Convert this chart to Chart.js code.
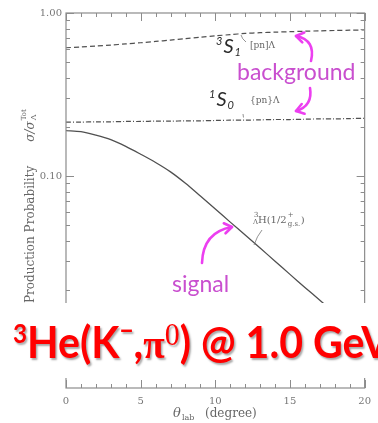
<!DOCTYPE html>
<html>
<head>
<meta charset="utf-8">
<script src="https://cdn.jsdelivr.net/npm/chart.js@4.4.1/dist/chart.umd.min.js"></script>
<style>
html,body{margin:0;padding:0;background:#fff;}
#wrap{width:378px;height:423px;}
</style>
</head>
<body>
<div id="wrap"><canvas id="c" width="378" height="423"></canvas></div>
<script>
/* DATA */
const theta = [0,1,2,3,4,5,6,7,8,9,10,11,12,13,14,15,16,17,18,19,20];
const signalGS = [0.190,0.187,0.178,0.167,0.152,0.136,0.121,0.106,0.0902,0.0753,0.0627,0.0521,0.0434,0.0361,0.0300,0.0249,0.0207,0.0173,0.0144,0.0119,0.0099];
const triplet3S1 = [0.612,0.619,0.627,0.636,0.646,0.657,0.669,0.682,0.696,0.710,0.724,0.737,0.749,0.757,0.763,0.768,0.773,0.777,0.781,0.784,0.787];
const singlet1S0 = [0.214,0.214,0.215,0.215,0.216,0.216,0.217,0.217,0.218,0.218,0.219,0.220,0.220,0.221,0.222,0.222,0.223,0.224,0.224,0.225,0.226];

const xTickVals = [0,5,10,15,20];
const xTickLabels = ["0","5","10","15","20"];
const xMinor = [1,2,3,4,6,7,8,9,11,12,13,14,16,17,18,19];
const yTickVals = [1,0.1];
const yTickLabels = ["1.00","0.10"];
const yMajor = [0.01,0.1,1];
const yMinor = [0.006,0.007,0.008,0.009,0.02,0.03,0.04,0.05,0.06,0.07,0.08,0.09,0.2,0.3,0.4,0.5,0.6,0.7,0.8,0.9];

const LINE = "#505050";
const AXIS = "#8c8c8c";
const PINK_TXT = "#c94fcf";
const PINK_ARR = "#ec3ff0";
const SERIF = '"DejaVu Serif"';

function pts(arr){
  return theta.map((t,i)=>({x:t, y:arr[i]}));
}

/* helpers */
function chevronArrow(ctx, x0, y0, cx, cy, x1, y1){
  ctx.beginPath();
  ctx.moveTo(x0,y0);
  ctx.quadraticCurveTo(cx,cy,x1,y1);
  ctx.stroke();
  const a = Math.atan2(y1-cy, x1-cx);
  const L = 9;
  ctx.beginPath();
  ctx.moveTo(x1-L*Math.cos(a-0.6), y1-L*Math.sin(a-0.6));
  ctx.lineTo(x1,y1);
  ctx.lineTo(x1-L*Math.cos(a+0.6), y1-L*Math.sin(a+0.6));
  ctx.stroke();
}

function stateLabel(ctx, x, y, pre, sub){
  ctx.fillStyle = "#2a2a2a";
  ctx.font = 'italic 11px Lato';
  ctx.fillText(pre, x, y-8);
  let w = ctx.measureText(pre).width + 1;
  ctx.font = 'italic 20px Lato';
  ctx.fillText("S", x+w, y);
  w += ctx.measureText("S").width + 1;
  ctx.font = 'italic 11px Lato';
  ctx.fillText(sub, x+w, y+3);
}

/* frame with inward ticks */
const framePlugin = {
  id: "frame",
  afterDatasetsDraw(chart){
    const {ctx, chartArea:a, scales:{x, y}} = chart;
    ctx.save();
    ctx.strokeStyle = AXIS;
    ctx.lineWidth = 1.2;
    ctx.strokeRect(a.left, a.top, a.right-a.left, a.bottom-a.top);
    ctx.lineWidth = 1;
    ctx.beginPath();
    const xt = (v, len)=>{
      const px = Math.round(x.getPixelForValue(v))+0.5;
      ctx.moveTo(px, a.top); ctx.lineTo(px, a.top+len);
      ctx.moveTo(px, a.bottom); ctx.lineTo(px, a.bottom-len);
    };
    const yt = (v, len)=>{
      const py = Math.round(y.getPixelForValue(v))+0.5;
      ctx.moveTo(a.left, py); ctx.lineTo(a.left+len, py);
      ctx.moveTo(a.right, py); ctx.lineTo(a.right-len, py);
    };
    xMinor.forEach(v=>xt(v,4));
    xTickVals.forEach(v=>xt(v,8));
    yMinor.forEach(v=>yt(v,4));
    yMajor.forEach(v=>yt(v,8));
    ctx.stroke();
    ctx.restore();
  }
};

/* annotations, titles, banner */
const overlayPlugin = {
  id: "overlay",
  afterDraw(chart){
    const ctx = chart.ctx;
    ctx.save();
    ctx.textBaseline = "alphabetic";

    // y title (rotated)
    ctx.save();
    ctx.translate(34, 303);
    ctx.rotate(-Math.PI/2);
    ctx.fillStyle = "#666";
    ctx.font = '12px ' + SERIF;
    ctx.fillText("Production Probability", 0, 0);
    let w = ctx.measureText("Production Probability").width + 24;
    ctx.font = 'italic 12px ' + SERIF;
    ctx.fillText("σ/σ", w, 0);
    w += ctx.measureText("σ/σ").width + 1;
    ctx.font = '8px ' + SERIF;
    ctx.fillText("Λ", w, 2);
    ctx.font = '7px ' + SERIF;
    ctx.fillText("Tot", w, -8);
    ctx.restore();

    // x title
    ctx.fillStyle = "#666";
    ctx.font = 'italic 13px ' + SERIF;
    ctx.fillText("θ", 173, 417);
    ctx.font = '8px ' + SERIF;
    ctx.fillText("lab", 182, 420);
    ctx.font = '12px ' + SERIF;
    ctx.fillText("(degree)", 205, 417);

    // state labels
    stateLabel(ctx, 216, 53, "3", "1");
    stateLabel(ctx, 209, 106, "1", "0");
    ctx.fillStyle = "#666";
    ctx.font = '9px ' + SERIF;
    ctx.fillText("[pn]Λ", 250, 48);
    ctx.fillText("{pn}Λ", 250, 103);

    // hypertriton label
    ctx.font = '7px ' + SERIF;
    ctx.fillText("3", 254, 217);
    ctx.fillText("Λ", 253, 224);
    ctx.font = '10px ' + SERIF;
    ctx.fillText("H(1/2", 258, 223);
    let hw = 258 + ctx.measureText("H(1/2").width;
    ctx.font = '7px ' + SERIF;
    ctx.fillText("+", hw+1, 217);
    ctx.fillText("g.s.", hw+1, 226);
    ctx.font = '10px ' + SERIF;
    ctx.fillText(")", hw + 14, 223);

    // leaders
    ctx.strokeStyle = "#777";
    ctx.lineWidth = 0.8;
    ctx.beginPath();
    ctx.moveTo(241,35); ctx.quadraticCurveTo(242,39,246,42);
    ctx.moveTo(243,114); ctx.lineTo(243.5,117.5);
    ctx.moveTo(262,230); ctx.quadraticCurveTo(257,236,254,245);
    ctx.stroke();

    // magenta words and arrows
    ctx.fillStyle = PINK_TXT;
    ctx.font = '23px Lato';
    ctx.fillText("background", 237, 80);
    ctx.fillText("signal", 172, 292);
    ctx.strokeStyle = PINK_ARR;
    ctx.lineWidth = 2.6;
    ctx.lineCap = "round";
    ctx.lineJoin = "round";
    chevronArrow(ctx, 311, 61, 316, 40, 296, 36);
    chevronArrow(ctx, 310, 88, 313, 106, 296, 111);
    chevronArrow(ctx, 202, 263, 203, 232, 232, 227);

    // white banner
    ctx.fillStyle = "#fff";
    ctx.fillRect(0, 303, 378, 75);

    // red reaction text
    const pieces = [
      ["3", 'bold 26px Lato', 343],
      ["He(K", 'bold 44px Lato', 358],
      ["\u2212", 'bold 26px Lato', 340],
      [",", 'bold 44px Lato', 358],
      ["π", 'bold 42px "Liberation Serif"', 358],
      ["0", '32px "Liberation Serif"', 345],
      [") @ 1.0 ", 'bold 44px Lato', 358],
      ["GeV/c", 'bold 44px Lato', 358]
    ];
    let total = 0;
    pieces.slice(0, -1).forEach(p=>{ ctx.font = p[1]; total += ctx.measureText(p[0]).width; });
    const sx = 300 / total;
    ctx.save();
    ctx.translate(13, 0);
    ctx.scale(sx, 1);
    ctx.fillStyle = "#ff0000";
    ctx.shadowColor = "rgba(0,0,0,0.35)";
    ctx.shadowOffsetX = 1.5;
    ctx.shadowOffsetY = 1.5;
    ctx.shadowBlur = 2;
    let px = 0;
    pieces.forEach(p=>{
      ctx.font = p[1];
      ctx.fillText(p[0], px, p[2]);
      px += ctx.measureText(p[0]).width;
    });
    ctx.restore();

    ctx.restore();
  }
};

new Chart(document.getElementById("c"), {
  type: "line",
  data: {
    datasets: [
      {label:"3S1 [pn]Λ", data:pts(triplet3S1), borderColor:LINE, borderWidth:1.2, borderDash:[5,3], pointRadius:0, tension:0.3, fill:false},
      {label:"1S0 {pn}Λ", data:pts(singlet1S0), borderColor:LINE, borderWidth:1.2, borderDash:[5,2,1,2], pointRadius:0, tension:0.3, fill:false},
      {label:"3ΛH(1/2+ g.s.)", data:pts(signalGS), borderColor:LINE, borderWidth:1.3, pointRadius:0, tension:0.3, fill:false}
    ]
  },
  options: {
    responsive: false,
    animation: false,
    devicePixelRatio: 1,
    layout: {padding:{top:13, right:13, left:0, bottom:0}},
    plugins: {legend:{display:false}, tooltip:{enabled:false}},
    scales: {
      x: {
        type: "linear", min: 0, max: 20,
        grid: {display:false, drawTicks:false},
        border: {display:false},
        ticks: {
          stepSize: 5, padding: 7, color: "#777", maxRotation: 0,
          font: {family:"DejaVu Serif", size:10},
          callback: v => { const i = xTickVals.indexOf(v); return i < 0 ? "" : xTickLabels[i]; }
        },
        afterFit: s => { s.height = 35; }
      },
      y: {
        type: "logarithmic", min: 0.005, max: 1,
        grid: {display:false, drawTicks:false},
        border: {display:false},
        ticks: {
          autoSkip: false, padding: 4, color: "#777",
          font: {family:"DejaVu Serif", size:10},
          callback: v => {
            const i = yTickVals.findIndex(t => Math.abs(t - v) < t*1e-6);
            return i < 0 ? "" : yTickLabels[i];
          }
        },
        afterFit: s => { s.width = 66; }
      }
    }
  },
  plugins: [framePlugin, overlayPlugin]
});
</script>
</body>
</html>
